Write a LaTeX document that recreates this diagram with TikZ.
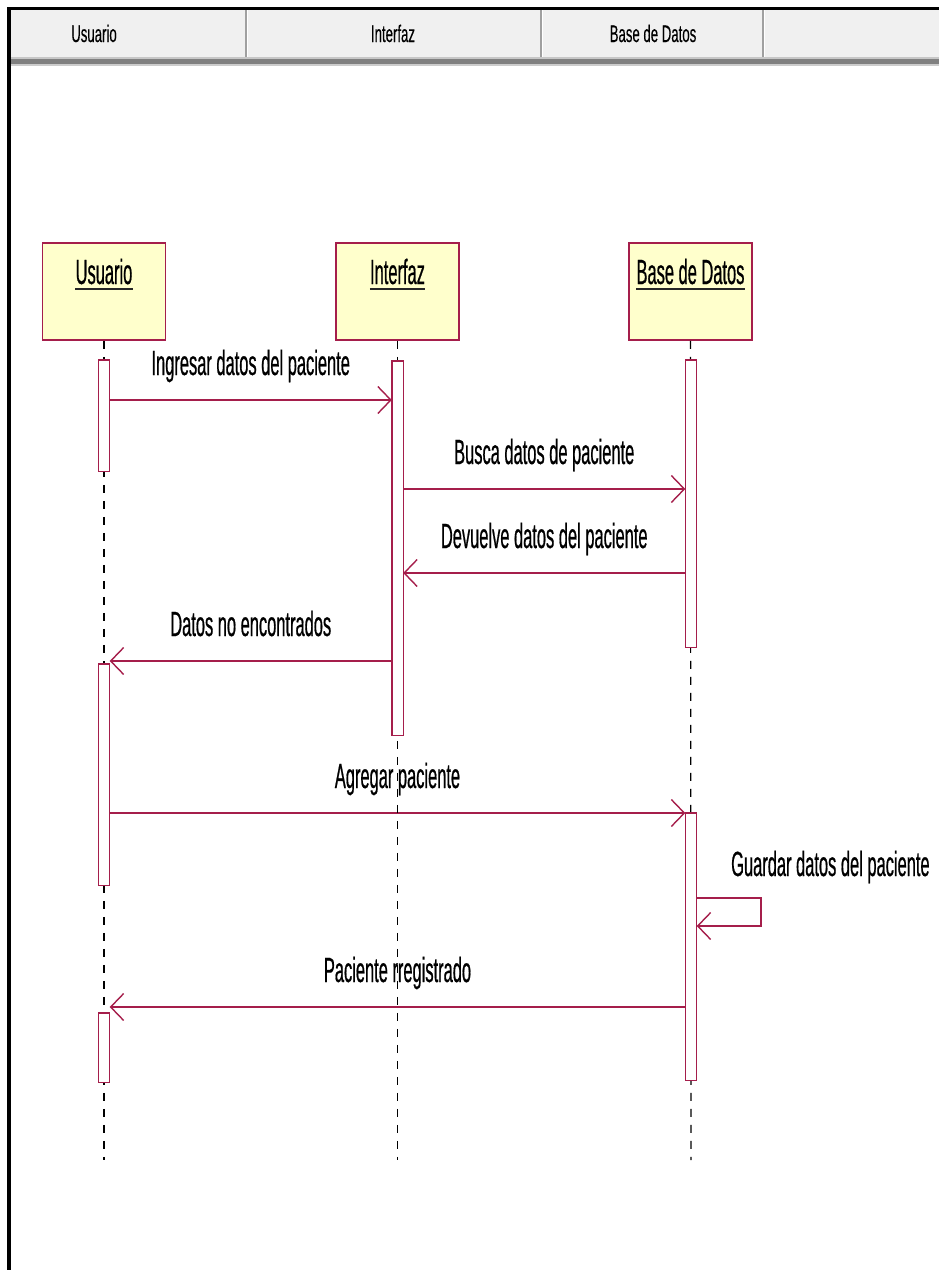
\documentclass[tikz,border=0pt]{standalone}
\usepackage{fontspec}
\setmainfont{Liberation Sans}[FakeStretch=0.47, FakeBold=0.5]
\newfontfamily\hdrfont{Liberation Sans}[FakeStretch=0.55, FakeBold=0.3]
\usetikzlibrary{arrows.meta}

\definecolor{umlred}{RGB}{165,30,75}
\definecolor{actfill}{RGB}{255,255,204}
\definecolor{hdrgrey}{RGB}{240,240,240}
\definecolor{hdrline}{RGB}{160,160,160}

\tikzset{
  actor/.style={draw=umlred, line width=1.8pt, fill=actfill,
                minimum width=123pt, minimum height=97pt, inner sep=0pt},
  actname/.style={font=\fontsize{35pt}{40pt}\selectfont, anchor=base, inner sep=0pt},
  actbar/.style={minimum width=11pt, inner sep=0pt},
  barbox/.style={draw=umlred, line width=1.4pt, fill=white},
  msg/.style={draw=umlred, line width=1.6pt,
              -{Straight Barb[length=13pt,width=27pt,line width=1.4pt]}},
  lbl/.style={font=\fontsize{35pt}{40pt}\selectfont, anchor=base,
              inner sep=0pt, yshift=25pt},
  life/.style={draw=black, line width=1.1pt, dash pattern=on 8pt off 8pt},
  hdrtext/.style={font=\hdrfont\fontsize{24pt}{28pt}\selectfont, anchor=base, inner sep=0pt},
}

\begin{document}
\begin{tikzpicture}[x=1pt, y=-1pt]
  \useasboundingbox (0,0) rectangle (939,1270);
  \fill[white] (0,0) rectangle (939,1270);

  % column header strip
  \fill[hdrgrey] (11,10) rectangle (939,57);
  \draw[line width=3pt, black] (7,8.5) -- (939,8.5);
  \fill[black] (7,7) rectangle (11,1270);
  \foreach \xx in {246,541,763} {
    \draw[hdrline, line width=1.6pt] (\xx,10) -- (\xx,57);
    \draw[white, line width=0.8pt] (\xx+1.8,10) -- (\xx+1.8,57);
  }
  \fill[black!22] (11,57) rectangle (939,59);
  \fill[black!50] (11,59) rectangle (939,64);
  \fill[black!20] (11,64) rectangle (939,66);
  \node[hdrtext] (hu) at (94,42) {Usuario};
  \node[hdrtext] (hi) at (393,42) {Interfaz};
  \node[hdrtext] (hb) at (653,42) {Base de Datos};

  % participants
  \node[actor] (usr) at (104,291.5) {};
  \node[actor] (inf) at (397.5,291.5) {};
  \node[actor] (bd)  at (690.5,291.5) {};
  \foreach \p/\t in {usr/Usuario, inf/Interfaz, bd/Base de Datos} {
    \node[actname] (\p name) at (\p.center |- 0,284) {\t};
    \draw[line width=2pt, black!85] ([yshift=-5pt]\p name.base west) -- ([yshift=-5pt]\p name.base east);
  }

  % lifeline ends
  \coordinate (usrend) at (104,1160);
  \coordinate (infend) at (397.5,1160);
  \coordinate (bdend)  at (691,1160);

  % message rows
  \coordinate (r1) at (0,400);
  \coordinate (r2) at (0,489);
  \coordinate (r3) at (0,573);
  \coordinate (r4) at (0,661);
  \coordinate (r5) at (0,813);
  \coordinate (r6) at (0,898);
  \coordinate (r6b) at (0,926);
  \coordinate (r7) at (0,1007);
  \coordinate (selfR) at (761,0);

  % activation bars (placed here, drawn on top at the end)
  \path
    node[actbar, minimum height=111pt] (ua1) at (104,415.5) {}
    node[actbar, minimum height=221pt] (ua2) at (104,774.5) {}
    node[actbar, minimum height=69pt]  (ua3) at (104,1047.5) {}
    node[actbar, minimum height=374pt] (ia1) at (397.5,548) {}
    node[actbar, minimum height=287pt] (ba1) at (691,503.5) {}
    node[actbar, minimum height=267pt] (ba2) at (691,946.5) {};

  % messages
  \draw[msg] (ua1.east |- r1) -- node[lbl] (m1) {Ingresar datos del paciente} (ia1.west |- r1);
  \draw[msg] (ia1.east |- r2) -- node[lbl] (m2) {Busca datos de paciente} (ba1.west |- r2);
  \draw[msg] (ba1.west |- r3) -- node[lbl] (m3) {Devuelve datos del paciente} (ia1.east |- r3);
  \draw[msg] (ia1.west |- r4) -- node[lbl] (m4) {Datos no encontrados} (ua2.east |- r4);
  \draw[msg] (ua2.east |- r5) -- node[lbl] (m5) {Agregar paciente} (ba2.west |- r5);
  \draw[msg] (ba2.east |- r6) -- (selfR |- r6) -- (selfR |- r6b) -- (ba2.east |- r6b);
  \node[lbl, anchor=base west] (m6) at (731,901) {Guardar datos del paciente};
  \draw[msg] (ba2.west |- r7) -- node[lbl] (m7) {Paciente rregistrado} (ua3.east |- r7);

  % lifelines
  \draw[life] (usr.south) -- (usrend);
  \draw[life] (inf.south) -- (infend);
  \draw[life] (bd.south) -- (bdend);

  % activation bars
  \foreach \b in {ua1,ua2,ua3,ia1,ba1,ba2}
    \draw[barbox] (\b.north west) rectangle (\b.south east);
\end{tikzpicture}
\end{document}
